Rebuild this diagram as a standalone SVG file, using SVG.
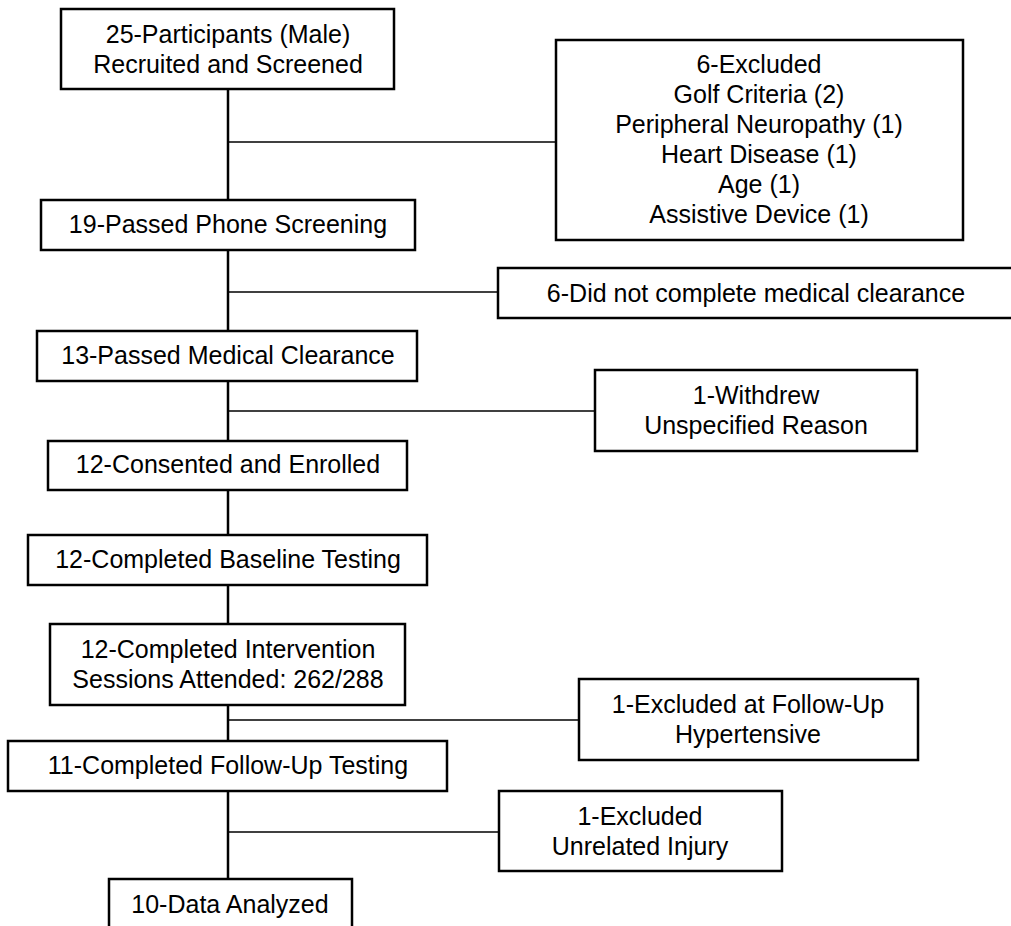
<svg xmlns="http://www.w3.org/2000/svg" width="1011" height="926" viewBox="0 0 1011 926">
<style>
.box{fill:#fff;stroke:#000;stroke-width:2.5}
.trunk{stroke:#000;stroke-width:2.5;fill:none}
.br{stroke:#000;stroke-width:1.6;fill:none}
text{font-family:"Liberation Sans",Arial,sans-serif;font-size:25px;fill:#000;text-anchor:middle}
</style>
<rect width="1011" height="926" fill="#fff"/>
<g id="connectors">
<line class="trunk" x1="228" y1="89" x2="228" y2="879"/>
<line class="br" x1="228" y1="142" x2="556" y2="142"/>
<line class="br" x1="228" y1="292" x2="498" y2="292"/>
<line class="br" x1="228" y1="411" x2="595" y2="411"/>
<line class="br" x1="228" y1="720" x2="579" y2="720"/>
<line class="br" x1="228" y1="832" x2="499" y2="832"/>
</g>
<g id="n1"><rect class="box" x="61" y="9" width="333" height="80"/><text x="228" y="43">25-Participants (Male)</text><text x="228" y="73">Recruited and Screened</text></g>
<g id="n2"><rect class="box" x="41" y="200" width="374" height="50"/><text x="228" y="233">19-Passed Phone Screening</text></g>
<g id="n3"><rect class="box" x="37" y="331" width="380" height="50"/><text x="228" y="364">13-Passed Medical Clearance</text></g>
<g id="n4"><rect class="box" x="48" y="441" width="359" height="49"/><text x="228" y="473">12-Consented and Enrolled</text></g>
<g id="n5"><rect class="box" x="28" y="535" width="399" height="50"/><text x="228" y="568">12-Completed Baseline Testing</text></g>
<g id="n6"><rect class="box" x="50" y="624" width="355" height="81"/><text x="228" y="658">12-Completed Intervention</text><text x="228" y="688">Sessions Attended: 262/288</text></g>
<g id="n7"><rect class="box" x="8" y="741" width="439" height="50"/><text x="228" y="774">11-Completed Follow-Up Testing</text></g>
<g id="n8"><rect class="box" x="109" y="879" width="243" height="60"/><text x="230" y="913">10-Data Analyzed</text></g>
<g id="x1"><rect class="box" x="556" y="40" width="407" height="200"/><text x="759" y="73">6-Excluded</text><text x="759" y="103">Golf Criteria (2)</text><text x="759" y="133">Peripheral Neuropathy (1)</text><text x="759" y="163">Heart Disease (1)</text><text x="759" y="193">Age (1)</text><text x="759" y="223">Assistive Device (1)</text></g>
<g id="x2"><rect class="box" x="498" y="268" width="520" height="50"/><text x="756" y="302">6-Did not complete medical clearance</text></g>
<g id="x3"><rect class="box" x="595" y="370" width="322" height="81"/><text x="756" y="404">1-Withdrew</text><text x="756" y="434">Unspecified Reason</text></g>
<g id="x4"><rect class="box" x="579" y="679" width="339" height="81"/><text x="748" y="713">1-Excluded at Follow-Up</text><text x="748" y="743">Hypertensive</text></g>
<g id="x5"><rect class="box" x="499" y="791" width="283" height="80"/><text x="640" y="825">1-Excluded</text><text x="640" y="855">Unrelated Injury</text></g>
</svg>
